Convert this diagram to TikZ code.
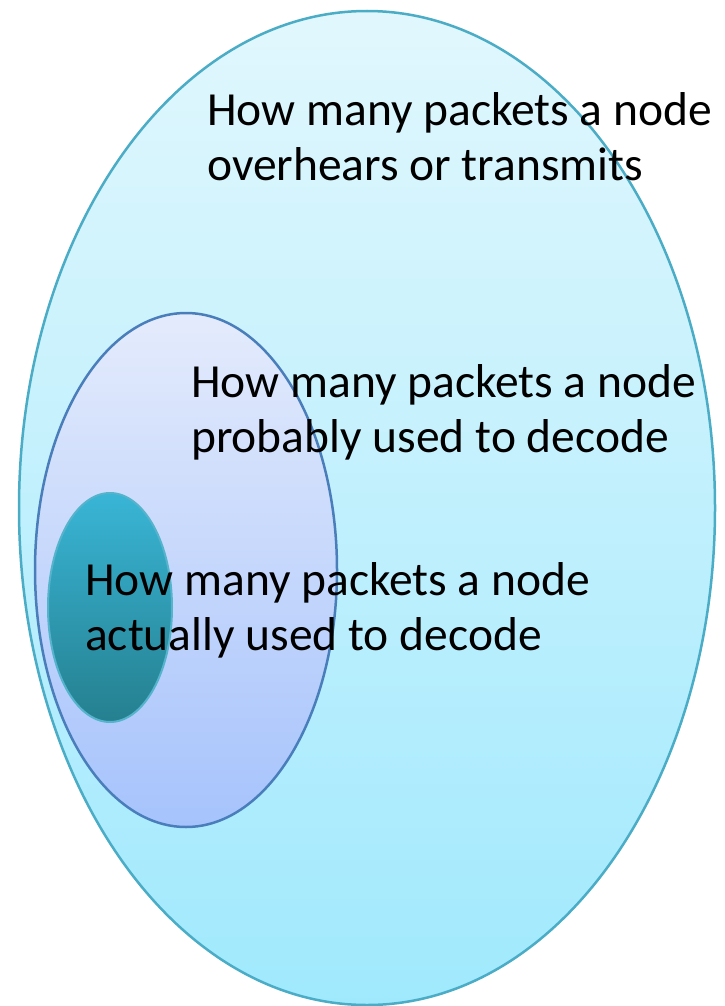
\documentclass[tikz,border=0pt]{standalone}
\usepackage{fontspec}
\setmainfont{Carlito}
\definecolor{outerTop}{HTML}{E1F7FD}
\definecolor{outerBot}{HTML}{A0E9FD}
\definecolor{outerLine}{HTML}{4BACC6}
\definecolor{midTop}{HTML}{E4EBFC}
\definecolor{midBot}{HTML}{A6C3FC}
\definecolor{midLine}{HTML}{4A7EBB}
\definecolor{inTop}{HTML}{39B5D6}
\definecolor{inBot}{HTML}{25808F}
\definecolor{inLine}{HTML}{55B3CC}
\tikzset{
  lbl/.style={anchor=base west, inner sep=0pt, align=left, font=\fontsize{47.5}{55}\selectfont, text=black},
}
\begin{document}
\begin{tikzpicture}[x=1pt,y=-1pt]
\useasboundingbox (0,0) rectangle (724,1006);
\fill[white] (0,0) rectangle (724,1006);
% outer ellipse
\shade[top color=outerTop, bottom color=outerBot] (367,508) ellipse [x radius=348, y radius=497];
\draw[outerLine, line width=2.5pt] (367,508) ellipse [x radius=348, y radius=497];
% middle ellipse
\shade[top color=midTop, bottom color=midBot] (186,570) ellipse [x radius=151, y radius=257];
\draw[midLine, line width=2.5pt] (186,570) ellipse [x radius=151, y radius=257];
% inner ellipse
\shade[top color=inTop, bottom color=inBot] (110,607.5) ellipse [x radius=62, y radius=114.5];
\draw[inLine, line width=2pt] (110,607.5) ellipse [x radius=62, y radius=114.5];
% labels (anchor is the baseline of the last line)
\node[lbl] (t1) at (207,180) {How many packets a node\\overhears or transmits};
\node[lbl] (t2) at (191,452) {How many packets a node\\probably used to decode};
\node[lbl] (t3) at (85,650) {How many packets a node\\actually used to decode};
\end{tikzpicture}
\end{document}
